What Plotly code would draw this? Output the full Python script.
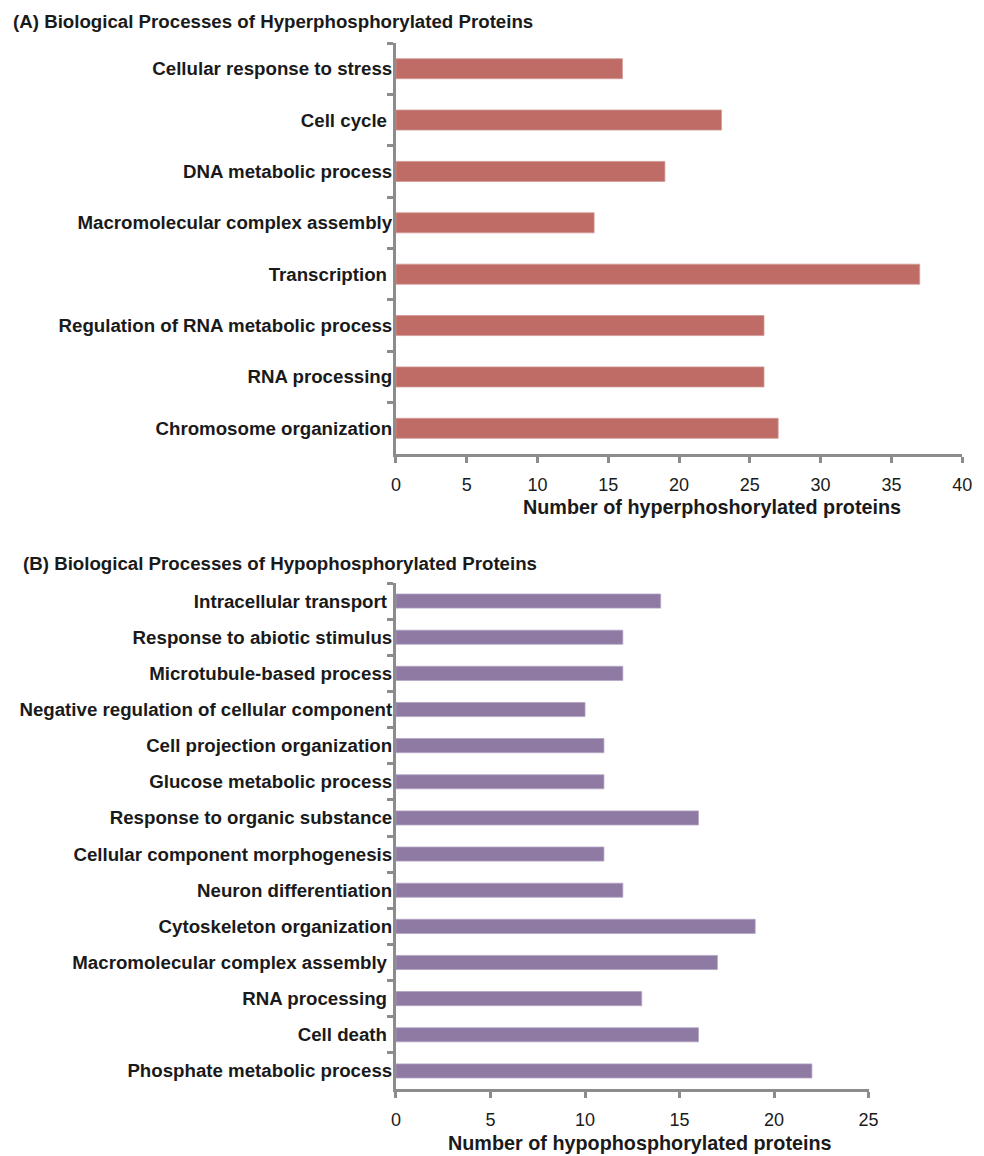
import plotly.graph_objects as go

W, H = 984, 1156

# Panel A data (top to bottom)
cats_a = ["Cellular response to stress", "Cell cycle ", "DNA metabolic process",
          "Macromolecular complex assembly", "Transcription ", "Regulation of RNA metabolic process",
          "RNA processing", "Chromosome organization"]
vals_a = [16, 23, 19, 14, 37, 26, 26, 27]

# Panel B data (top to bottom)
cats_b = ["Intracellular transport ", "Response to abiotic stimulus", "Microtubule-based process",
          "Negative regulation of cellular component", "Cell projection organization",
          "Glucose metabolic process", "Response to organic substance",
          "Cellular component morphogenesis", "Neuron differentiation",
          "Cytoskeleton organization", "Macromolecular complex assembly ", "RNA processing ",
          "Cell death ", "Phosphate metabolic process"]
vals_b = [14, 12, 12, 10, 11, 11, 16, 11, 12, 19, 17, 13, 16, 22]

ticks_a = [0, 5, 10, 15, 20, 25, 30, 35, 40]
ticks_b = [0, 5, 10, 15, 20, 25]

FONT = "Liberation Sans, Arial, sans-serif"
AXC = "#8c8c8c"
TXT = "#1a1a1a"

def px_x(p):
    return p / W

def px_y(p):
    return 1 - p / H

fig = go.Figure()
fig.add_trace(go.Bar(x=vals_a, y=cats_a, orientation="h", xaxis="x", yaxis="y",
                     marker=dict(color="#BE6C65", line=dict(color="#d39a95", width=0.8)),
                     showlegend=False))
fig.add_trace(go.Bar(x=vals_b, y=cats_b, orientation="h", xaxis="x2", yaxis="y2",
                     marker=dict(color="#8E7AA2", line=dict(color="#b3a5c4", width=0.8)),
                     showlegend=False))

xcommon = dict(showline=True, linecolor=AXC, linewidth=3, ticks="outside", ticklen=6,
               tickwidth=2.5, tickcolor=AXC, showgrid=False, zeroline=False,
               tickfont=dict(family=FONT, size=18, color=TXT), ticklabelstandoff=6,
               fixedrange=True)
ycommon = dict(showline=True, linecolor=AXC, linewidth=3, ticks="outside", ticklen=6,
               tickwidth=2.5, tickcolor=AXC, showgrid=False, zeroline=False,
               tickson="boundaries", autorange="reversed", type="category",
               tickfont=dict(family=FONT, size=18.7, color=TXT, weight="bold"),
               ticklabelstandoff=-3, fixedrange=True)

a_top, a_bot = 43, 454
b_top, b_bot = 583, 1089
x0 = 397
a_right, b_right = 972, 877

fig.update_layout(
    width=W, height=H, margin=dict(l=0, r=0, t=0, b=0),
    paper_bgcolor="white", plot_bgcolor="white", bargap=0.61,
    xaxis=dict(domain=[px_x(x0), px_x(a_right)], range=[0, 40], tickvals=ticks_a,
               anchor="y", **xcommon),
    yaxis=dict(domain=[px_y(a_bot), px_y(a_top)], anchor="x", **ycommon),
    xaxis2=dict(domain=[px_x(x0), px_x(b_right)], range=[0, 25], tickvals=ticks_b,
                anchor="y2", **xcommon),
    yaxis2=dict(domain=[px_y(b_bot), px_y(b_top)], anchor="x2", **ycommon),
)

tfont = dict(family=FONT, size=18.7, color=TXT)
afont = dict(family=FONT, size=19.8, color=TXT)
annots = [
    dict(text="<b>(A) Biological Processes of Hyperphosphorylated Proteins</b>",
         x=px_x(6), y=px_y(22), xanchor="left", yanchor="middle", font=tfont),
    dict(text="<b>(B) Biological Processes of Hypophosphorylated Proteins</b>",
         x=px_x(16), y=px_y(564), xanchor="left", yanchor="middle", font=tfont),
    dict(text="<b>Number of hyperphoshorylated proteins</b>",
         x=px_x(718), y=px_y(507), xanchor="center", yanchor="middle", font=afont),
    dict(text="<b>Number of hypophosphorylated proteins</b>",
         x=px_x(645), y=px_y(1143), xanchor="center", yanchor="middle", font=afont),
]
for a in annots:
    a.update(xref="paper", yref="paper", showarrow=False)
fig.update_layout(annotations=annots)

fig.write_html("out.html")
